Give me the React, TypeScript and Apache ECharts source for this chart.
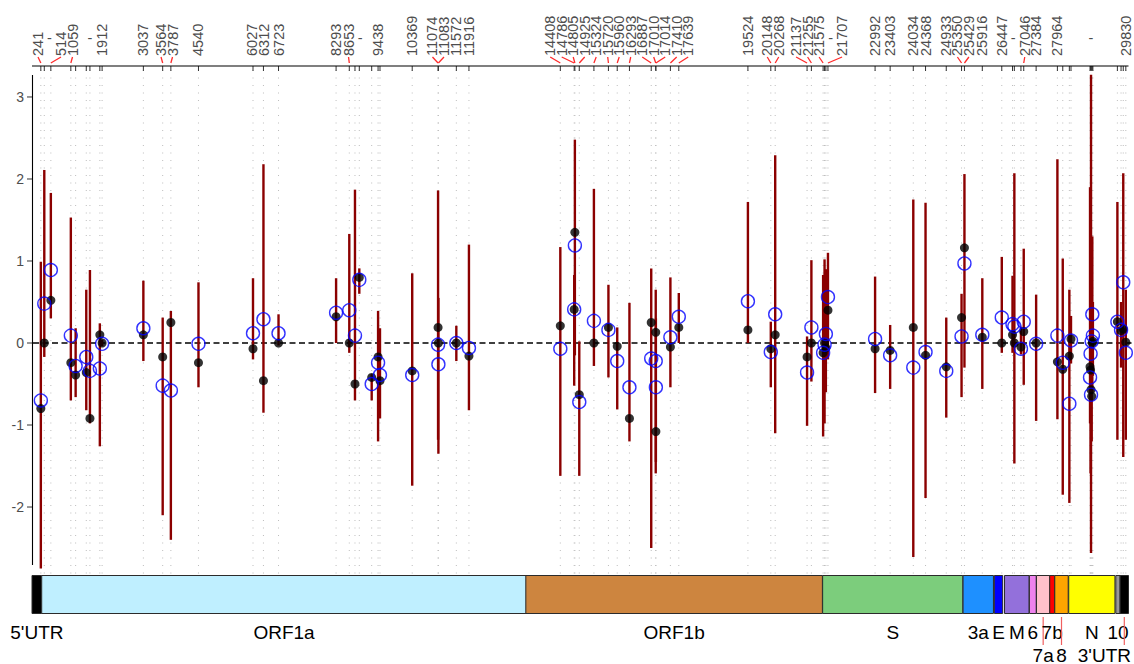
import React, { useEffect, useRef } from "react";
import * as echarts from "echarts";

const FONT_FAMILY = '"Liberation Sans", Arial, Helvetica, sans-serif';
const GENOME_LENGTH = 29903;
const Y_MIN = -2.707;
const Y_MAX = 3.268;
const yTicks = [-2, -1, 0, 1, 2, 3];

// Genome annotation
const geneNames = ["5'UTR", "ORF1a", "ORF1b", "S", "3a", "E", "M", "6", "7a", "7b", "8", "N", "10", "3'UTR"];
const geneStart = [1, 266, 13468, 21563, 25393, 26245, 26523, 27202, 27394, 27756, 27894, 28274, 29558, 29675];
const geneEnd = [265, 13483, 21555, 25384, 26220, 26472, 27191, 27387, 27759, 27887, 28259, 29533, 29674, 29903];
const geneColor = ["#000000", "#BFEFFF", "#CD853F", "#7CCD7C", "#1E90FF", "#0000FF", "#9370DB", "#EE82EE", "#FFC0CB", "#FF0000", "#FFA500", "#FFFF00", "#999999", "#000000"];
const geneLabelRow = [1, 1, 1, 1, 1, 1, 1, 1, 2, 1, 2, 1, 1, 2];

// Variant positions and estimates
const variantPos = [241, 335, 514, 1059, 1190, 1480, 1580, 1850, 1912, 3037, 3564, 3787, 4540, 6027, 6312, 6723, 8293, 8653, 8808, 8926, 9264, 9438, 9490, 10369, 11074, 11083, 11572, 11916, 14408, 14786, 14805, 14925, 15324, 15720, 15960, 16293, 16887, 17010, 17014, 17410, 17639, 19524, 20148, 20268, 21137, 21255, 21575, 21614, 21650, 21707, 22992, 23403, 24034, 24368, 24933, 25350, 25429, 25916, 26447, 26740, 26790, 26970, 27046, 27384, 27964, 28110, 28290, 28335, 28854, 28869, 28881, 28899, 28916, 28932, 29600, 29700, 29760, 29830];
const estimate = [-0.80, 0.00, 0.52, -0.24, -0.39, -0.36, -0.92, 0.10, 0.00, 0.10, -0.17, 0.25, -0.24, -0.07, -0.46, 0.00, 0.32, 0.00, -0.50, 0.80, -0.42, -0.17, -0.46, -0.34, 0.19, 0.00, 0.00, -0.16, 0.21, 0.41, 1.35, -0.63, 0.00, 0.19, -0.04, -0.92, 0.25, 0.13, -1.08, -0.05, 0.19, 0.16, -0.07, 0.10, -0.17, 0.00, -0.12, 0.00, -0.06, 0.40, -0.07, -0.09, 0.19, -0.15, -0.29, 0.31, 1.16, 0.07, 0.00, 0.10, 0.00, -0.05, 0.14, 0.00, -0.23, -0.32, -0.16, 0.05, -0.29, -0.33, -0.57, -0.65, 0.00, 0.02, 0.26, 0.15, 0.17, 0.01];
const ciLower = [-2.75, -0.17, 0.30, -0.70, -0.66, -0.82, -0.98, -1.26, -0.04, -0.22, -2.10, -2.40, -0.54, -0.20, -0.85, -0.03, 0.00, -0.12, -0.70, 0.60, -0.70, -1.20, -0.92, -1.74, -1.18, -1.35, -0.22, -0.82, -1.62, -0.52, -0.15, -1.62, -0.28, -0.42, -0.81, -1.20, -2.50, -1.59, -1.45, -0.54, 0.00, 0.00, -0.54, -1.10, -1.01, -0.47, -1.14, -0.98, -0.60, -0.20, -0.61, -0.56, -2.61, -1.89, -0.91, -0.66, -0.30, -0.56, -0.12, -0.12, -1.47, -0.14, -0.51, -0.95, -0.93, -1.85, -1.95, -0.25, -0.98, -1.59, -2.56, -1.20, -0.60, -0.40, -1.18, -0.30, -1.39, -1.18];
const ciUpper = [0.99, 2.11, 1.83, 1.53, 0.18, 0.65, 0.89, 0.24, 0.04, 0.76, 0.31, 0.39, 0.74, 0.79, 2.18, 0.35, 0.79, 1.33, 1.87, 0.91, -0.38, 0.39, 0.18, 0.85, 1.86, 0.55, 0.21, 1.20, 1.17, 0.83, 2.48, 0.02, 1.88, 0.71, 0.19, 0.49, 0.91, 0.65, 0.30, 0.80, 0.61, 1.72, 0.26, 2.29, 0.08, 1.01, 0.83, 1.02, 0.90, 1.10, 0.81, 0.22, 1.75, 1.71, 0.31, 0.60, 2.06, 0.79, 1.05, 0.82, 2.07, 0.20, 1.15, 0.59, 2.24, 1.03, 0.65, 0.33, 1.90, 0.81, 3.27, 0.30, 1.30, 0.50, 1.72, 0.50, 2.07, 0.65];
const altEstimate = [-0.70, 0.48, 0.89, 0.09, -0.28, -0.17, -0.34, -0.31, -0.01, 0.18, -0.52, -0.58, -0.01, 0.12, 0.29, 0.12, 0.37, 0.40, 0.09, 0.77, -0.50, -0.24, -0.39, -0.39, -0.02, -0.26, 0.00, -0.06, -0.07, 0.41, 1.19, -0.72, 0.27, 0.16, -0.22, -0.54, -0.19, -0.22, -0.54, 0.07, 0.32, 0.51, -0.11, 0.35, -0.36, 0.19, -0.12, -0.02, 0.11, 0.56, 0.05, -0.15, -0.30, -0.11, -0.34, 0.08, 0.97, 0.10, 0.31, 0.23, 0.20, -0.07, 0.26, -0.01, 0.09, -0.24, -0.74, 0.03, -0.42, -0.13, -0.63, 0.02, 0.35, 0.09, 0.26, 0.16, 0.74, -0.12];

// Top labels (sorted by position)
const labelPos = [241, 335, 514, 1059, 1580, 1912, 3037, 3564, 3787, 4540, 6027, 6312, 6723, 8293, 8653, 8926, 9438, 10369, 11074, 11083, 11572, 11916, 14408, 14786, 14805, 14925, 15324, 15720, 15960, 16293, 16887, 17010, 17014, 17410, 17639, 19524, 20148, 20268, 21137, 21255, 21575, 21650, 21707, 22992, 23403, 24034, 24368, 24933, 25350, 25429, 25916, 26447, 26790, 27046, 27384, 27964, 28881, 29830];
const labelText = ["241", "-", "514", "1059", "-", "1912", "3037", "3564", "3787", "4540", "6027", "6312", "6723", "8293", "8653", "-", "9438", "10369", "11074", "11083", "11572", "11916", "14408", "14786", "14805", "14925", "15324", "15720", "15960", "16293", "16887", "17010", "17014", "17410", "17639", "19524", "20148", "20268", "21137", "21255", "21575", "-", "21707", "22992", "23403", "24034", "24368", "24933", "25350", "25429", "25916", "26447", "-", "27046", "27384", "27964", "-", "29830"];

function layoutLabels(desired: number[], gap: number, minX: number): number[] {
  const clusters: { n: number; sum: number }[] = [];
  desired.forEach((d) => {
    clusters.push({ n: 1, sum: d });
    while (clusters.length > 1) {
      const b = clusters[clusters.length - 1];
      const a = clusters[clusters.length - 2];
      const aRight = a.sum / a.n + ((a.n - 1) * gap) / 2;
      const bLeft = b.sum / b.n - ((b.n - 1) * gap) / 2;
      if (bLeft - aRight < gap) {
        a.n += b.n;
        a.sum += b.sum;
        clusters.pop();
      } else break;
    }
  });
  const out: number[] = [];
  clusters.forEach((c) => {
    const left = c.sum / c.n - ((c.n - 1) * gap) / 2;
    for (let k = 0; k < c.n; k++) out.push(left + k * gap);
  });
  for (let i = 0; i < out.length; i++) {
    const lo = i === 0 ? minX : out[i - 1] + gap;
    if (out[i] < lo) out[i] = lo;
  }
  return out;
}

function textStyle(text: string, size: number, fill: string, align: string, verticalAlign: string) {
  return { text, fontSize: size, fontFamily: FONT_FAMILY, fill, align, verticalAlign };
}

function buildOption(): any {
  return {
    animation: false,
    grid: { left: 32, right: 5.5, top: 75, bottom: 99, containLabel: false },
    xAxis: { type: "value", min: 0, max: GENOME_LENGTH, show: false },
    yAxis: { type: "value", min: Y_MIN, max: Y_MAX, show: false },
    series: [
      // dotted guides and top ticks
      {
        type: "custom",
        silent: true,
        clip: false,
        z: 1,
        encode: { x: 0, y: 1 },
        data: variantPos.map((p) => [p, 0]),
        renderItem: (params: any, api: any) => {
          const cs = params.coordSys;
          const x = api.coord([api.value(0), 0])[0];
          const axisY = cs.y - 9;
          return {
            type: "group",
            children: [
              {
                type: "line",
                shape: { x1: x, y1: cs.y - 5, x2: x, y2: cs.y + cs.height + 10 },
                style: { stroke: "#BDBDBD", lineWidth: 1, lineDash: [1, 6.5] },
              },
              {
                type: "line",
                shape: { x1: x, y1: axisY, x2: x, y2: axisY + 5 },
                style: { stroke: "#333333", lineWidth: 1 },
              },
            ],
          };
        },
      },
      // zero dashed line
      {
        type: "custom",
        silent: true,
        clip: false,
        z: 2,
        encode: { x: 0, y: 1 },
        data: [[0, 0]],
        renderItem: (params: any, api: any) => {
          const cs = params.coordSys;
          const y0 = api.coord([0, 0])[1];
          return {
            type: "line",
            shape: { x1: cs.x + 1, y1: y0, x2: cs.x + cs.width + 6, y2: y0 },
            style: { stroke: "#000000", lineWidth: 1.6, lineDash: [6, 3.5] },
          };
        },
      },
      // gene bar
      {
        type: "custom",
        silent: true,
        clip: false,
        z: 2,
        encode: { x: [0, 1], y: 2 },
        data: geneStart.map((s, i) => [s, geneEnd[i], 0, i]),
        renderItem: (params: any, api: any) => {
          const cs = params.coordSys;
          const i = api.value(3);
          const x1 = api.coord([api.value(0) - 1, 0])[0];
          const x2 = api.coord([api.value(1), 0])[0];
          const bottom = cs.y + cs.height;
          const top = bottom + 10.5;
          const h = 38;
          const children: any[] = [
            {
              type: "rect",
              shape: { x: x1, y: top, width: x2 - x1, height: h },
              style: { fill: geneColor[i], stroke: "#2b2b2b", lineWidth: 1 },
            },
          ];
          const cx = (x1 + x2) / 2;
          const row = geneLabelRow[i];
          const ly = row === 1 ? bottom + 67 : bottom + 90;
          const name = geneNames[i];
          const estW = name.length * 0.6 * 19;
          const pageW = cs.x + cs.width + 5.5;
          let tx = cx;
          let align = "center";
          if (cx + estW / 2 > pageW - 2) {
            tx = pageW - 3;
            align = "right";
          }
          if (row === 2) {
            children.push({
              type: "line",
              shape: { x1: cx, y1: bottom + 52, x2: cx, y2: bottom + 80 },
              style: { stroke: "#F06060", lineWidth: 1.2 },
            });
          }
          children.push({
            type: "text",
            x: tx,
            y: ly,
            style: textStyle(name, 19, "#000000", align, "middle"),
          });
          return { type: "group", children };
        },
      },
      // confidence intervals
      {
        type: "custom",
        silent: true,
        clip: false,
        z: 3,
        encode: { x: 0, y: [1, 2] },
        data: variantPos.map((p, i) => [p, ciLower[i], ciUpper[i]]),
        renderItem: (params: any, api: any) => {
          const a = api.coord([api.value(0), api.value(1)]);
          const b = api.coord([api.value(0), api.value(2)]);
          return {
            type: "line",
            shape: { x1: a[0], y1: a[1], x2: b[0], y2: b[1] },
            style: { stroke: "#8B0000", lineWidth: 2.4 },
          };
        },
      },
      // point estimates
      {
        type: "scatter",
        silent: true,
        z: 4,
        symbol: "circle",
        symbolSize: 9,
        itemStyle: { color: "#000000" },
        data: variantPos.map((p, i) => [p, estimate[i]]),
      },
      // alternative estimates
      {
        type: "scatter",
        silent: true,
        z: 5,
        symbol: "circle",
        symbolSize: 13,
        itemStyle: { color: "rgba(0,0,0,0)", borderColor: "#0000FF", borderWidth: 1.4 },
        data: variantPos.map((p, i) => [p, altEstimate[i]]),
      },
      // top labels
      {
        type: "custom",
        silent: true,
        clip: false,
        z: 5,
        encode: { x: 0, y: 1 },
        data: labelPos.map((p, i) => [p, 0, i]),
        renderItem: (params: any, api: any) => {
          const cs = params.coordSys;
          const i = api.value(2);
          const desired = labelPos.map((p) => api.coord([p, 0])[0]);
          const placed = layoutLabels(desired, 11.5, 38);
          const axisY = cs.y - 9;
          const tickX = desired[i];
          const lx = placed[i];
          const text = labelText[i];
          const children: any[] = [];
          if (text === "-") {
            children.push({
              type: "text",
              x: lx,
              y: axisY - 28,
              style: textStyle(text, 14.5, "#4D4D4D", "center", "middle"),
            });
          } else {
            if (Math.abs(lx - tickX) > 0.6) {
              children.push({
                type: "line",
                shape: { x1: tickX, y1: axisY - 3, x2: lx, y2: axisY - 9 },
                style: { stroke: "#FF2A2A", lineWidth: 1.3 },
              });
            }
            children.push({
              type: "text",
              x: lx,
              y: axisY - 10,
              rotation: Math.PI / 2,
              style: textStyle(text, 14.5, "#4D4D4D", "left", "middle"),
            });
          }
          return { type: "group", children };
        },
      },
      // frame: axes lines, y ticks and labels
      {
        type: "custom",
        silent: true,
        clip: false,
        z: 6,
        encode: { x: 0, y: 1 },
        data: [[0, 0]],
        renderItem: (params: any, api: any) => {
          const cs = params.coordSys;
          const left = cs.x;
          const axisY = cs.y - 9;
          const children: any[] = [
            {
              type: "line",
              shape: { x1: left + 0.5, y1: cs.y, x2: left + 0.5, y2: cs.y + cs.height },
              style: { stroke: "#000000", lineWidth: 1.1 },
            },
            {
              type: "line",
              shape: { x1: left, y1: axisY, x2: cs.x + cs.width, y2: axisY },
              style: { stroke: "#000000", lineWidth: 1.1 },
            },
          ];
          yTicks.forEach((t) => {
            const y = api.coord([0, t])[1];
            children.push({
              type: "line",
              shape: { x1: left - 5, y1: y, x2: left, y2: y },
              style: { stroke: "#333333", lineWidth: 1 },
            });
            children.push({
              type: "text",
              x: left - 8,
              y,
              style: textStyle(String(t), 14, "#4D4D4D", "right", "middle"),
            });
          });
          return { type: "group", children };
        },
      },
    ],
  };
}

export default function App() {
  const ref = useRef<HTMLDivElement>(null);
  useEffect(() => {
    const chart = echarts.init(ref.current as HTMLDivElement, null, { renderer: "svg" });
    chart.setOption(buildOption());
    return () => chart.dispose();
  }, []);
  return (
    <div
      ref={ref}
      style={{ position: "absolute", left: 0, top: 0, width: 1134, height: 664, background: "#ffffff" }}
    />
  );
}
